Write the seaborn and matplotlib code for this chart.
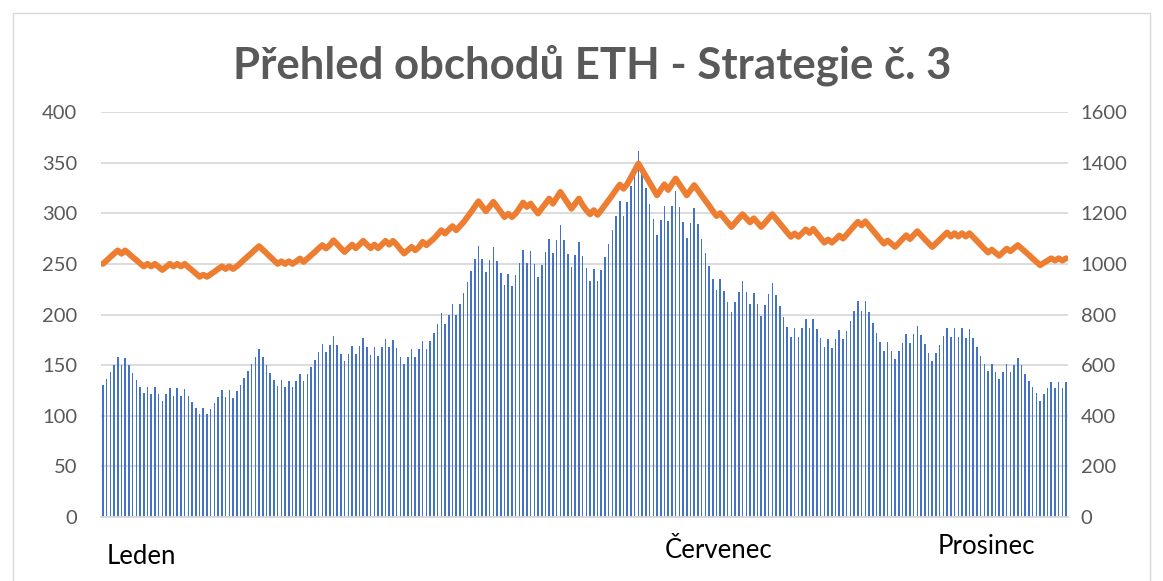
import numpy as np
import pandas as pd
import matplotlib
matplotlib.use("Agg")
import matplotlib.pyplot as plt
import seaborn as sns
from matplotlib.patches import Rectangle

# ---------------- data ----------------
bars = [130, 136, 143, 150, 158, 150, 157, 150, 142, 135, 128, 122, 128, 121, 128, 121, 115, 121, 127, 120,
        127, 120, 126, 120, 114, 108, 102, 108, 102, 107, 113, 119, 125, 119, 125, 118, 124, 130, 137, 144,
        151, 158, 166, 158,
        150, 142, 135, 129, 135, 128, 134, 128, 134, 141, 134, 141, 148, 155, 163, 171, 163, 170, 179, 170,
        161, 154, 161, 169, 161, 169, 177, 168, 160, 168, 159, 168, 176, 168, 175, 167, 158, 151, 158, 166,
        158, 166, 174,
        166, 174, 182, 191, 201, 191, 200, 210, 200, 210, 221, 232, 243, 255, 268, 255, 242, 254, 267, 253,
        241, 229, 240, 228, 239, 251, 264, 251, 263, 250, 237, 249, 262, 275, 261, 274, 288, 274, 260, 247,
        259, 272, 258, 246,
        233, 245, 233, 244, 257, 270, 283, 297, 312, 297, 311, 327, 342, 361, 342, 325, 309, 294, 279, 293,
        307, 292, 307, 322, 306, 291, 276, 290, 305, 289, 275, 261, 248, 235, 224, 235, 223, 212, 202, 212,
        222, 233, 222,
        210, 221, 210, 199, 209, 220, 231, 219, 208, 198, 188, 178, 187, 178, 187, 196, 187, 196, 186, 177,
        168, 176, 167, 176, 185, 176, 184, 194, 203, 213, 203, 213, 202, 192, 182, 173, 164, 173, 164, 156,
        164, 172, 181, 172,
        181, 189, 180, 171, 162, 154, 162, 170, 179, 187, 178, 187, 178, 187, 177, 186, 177, 168, 159, 151,
        144, 151, 143, 136, 143, 151, 143, 150, 157, 150, 141, 134, 128, 122, 115, 121, 127, 133, 127, 133,
        127, 133]

balance = [1000, 1013, 1027, 1040, 1053, 1040, 1053, 1040, 1027, 1015, 1002, 990, 1000, 990, 1000, 988, 976, 988,
           1000, 990, 1000, 990, 1000, 987, 975, 962, 949, 957, 949, 959, 969, 980, 990, 980, 990, 980, 990, 1003,
           1017, 1030, 1043, 1057, 1070, 1056, 1042, 1028, 1014, 1000, 1010, 1000, 1010, 1000,
           1010, 1021, 1008, 1021, 1034, 1047, 1061, 1074, 1061, 1074, 1093, 1078, 1062, 1047, 1062, 1076, 1062,
           1076, 1091, 1076, 1062, 1076, 1062, 1076, 1091, 1076, 1091, 1076, 1058, 1041, 1054, 1067, 1054, 1067,
           1087, 1074, 1087, 1100, 1116, 1133, 1120, 1135, 1149, 1133, 1149, 1165, 1185, 1205, 1226, 1247, 1227,
           1208, 1227, 1245, 1225, 1205, 1185, 1198, 1185, 1199, 1220, 1242, 1225, 1238, 1218, 1199, 1219, 1238,
           1258, 1238, 1261, 1284, 1262, 1240, 1218, 1238, 1258,
           1232, 1212, 1196, 1212, 1194, 1212, 1232, 1252, 1272, 1293, 1313, 1297, 1315, 1342, 1369, 1396, 1371,
           1346, 1321, 1296, 1271, 1293, 1314, 1292, 1315, 1337, 1315, 1293, 1271, 1291, 1311, 1291, 1270, 1250,
           1230, 1209, 1189, 1200, 1182, 1164, 1146, 1163, 1180, 1196, 1180,
           1164, 1180, 1163, 1146, 1162, 1179, 1196, 1178, 1160, 1142, 1124, 1107, 1120, 1107, 1121, 1136, 1122,
           1138, 1120, 1102, 1084, 1096, 1084, 1097, 1112, 1100, 1116, 1133, 1150, 1166, 1152, 1168, 1150, 1133,
           1115, 1097, 1080, 1092, 1080, 1067, 1082, 1098, 1113, 1098,
           1114, 1129, 1113, 1097, 1082, 1067, 1081, 1095, 1110, 1124, 1108, 1121, 1108, 1121, 1108, 1121, 1106,
           1091, 1075, 1060, 1045, 1056, 1044, 1032, 1046, 1060, 1050, 1062, 1074, 1061, 1048, 1035, 1021, 1008,
           995, 1004, 1013, 1022, 1013, 1022, 1013, 1022]

left_ticks = [0, 50, 100, 150, 200, 250, 300, 350, 400]
right_ticks = [0, 200, 400, 600, 800, 1000, 1200, 1400, 1600]
month_labels = ["Leden", "Červenec", "Prosinec"]
title = "Přehled obchodů ETH - Strategie č. 3"

# ---------------- styling ----------------
BAR = "#4472C4"
ORANGE = "#ED7D31"
GRID = "#D9D9D9"
TXT = "#595959"

sns.set_theme(style="white")
plt.rcParams["font.family"] = ["Lato", "DejaVu Sans"]

W, H = 1163, 581
fig = plt.figure(figsize=(W / 100, H / 100), dpi=100)
fig.patch.set_facecolor("white")

ax_left, ax_right, ax_top, ax_bottom = 101, 1068, 112, 517
ax = fig.add_axes([ax_left / W, 1 - ax_bottom / H, (ax_right - ax_left) / W, (ax_bottom - ax_top) / H])

df = pd.DataFrame({"idx": np.arange(len(bars)), "bars": bars, "balance": balance})

sns.barplot(data=df, x="idx", y="bars", color=BAR, saturation=1, width=0.42,
            linewidth=0, ax=ax)
ax.set_xlim(-0.5, len(bars) - 0.5)
ax.set_ylim(0, 400)
ax.set_yticks(left_ticks)
ax.set_xticks([])
ax.set_xlabel("")
ax.set_ylabel("")
ax.set_axisbelow(True)
ax.yaxis.grid(True, color=GRID, linewidth=1.3)
ax.xaxis.grid(False)
for s in ["top", "left", "right"]:
    ax.spines[s].set_visible(False)
ax.spines["bottom"].set_color(GRID)
ax.spines["bottom"].set_linewidth(1.3)
ax.tick_params(axis="y", length=0, pad=17, labelsize=14.5, labelcolor=TXT)

ax2 = ax.twinx()
sns.lineplot(data=df, x="idx", y="balance", color=ORANGE, linewidth=4.3, ax=ax2)
ax2.set_ylim(0, 1600)
ax2.set_yticks(right_ticks)
ax2.set_ylabel("")
ax2.set_xlabel("")
for s in ["top", "left", "right", "bottom"]:
    ax2.spines[s].set_visible(False)
ax2.tick_params(axis="y", length=0, pad=9, labelsize=14.5, labelcolor=TXT)
ax2.set_xlim(-0.5, len(bars) - 0.5)

fig.text(592 / W, 1 - 65 / H, title, ha="center", va="center",
         fontsize=31.5, fontweight="bold", color=TXT)

fig.text(107 / W, 1 - 557 / H, month_labels[0], ha="left", va="center", fontsize=18.5, color="black")
fig.text(665 / W, 1 - 550 / H, month_labels[1], ha="left", va="center", fontsize=18.5, color="black")
fig.text(938 / W, 1 - 546 / H, month_labels[2], ha="left", va="center", fontsize=18.5, color="black")

fig.patches.append(Rectangle((13 / W, -0.05), (1150 - 13) / W, 1.05 - 13 / H,
                             transform=fig.transFigure, fill=False,
                             edgecolor=GRID, linewidth=1.0))

fig.savefig("out.png", dpi=100, facecolor="white")
